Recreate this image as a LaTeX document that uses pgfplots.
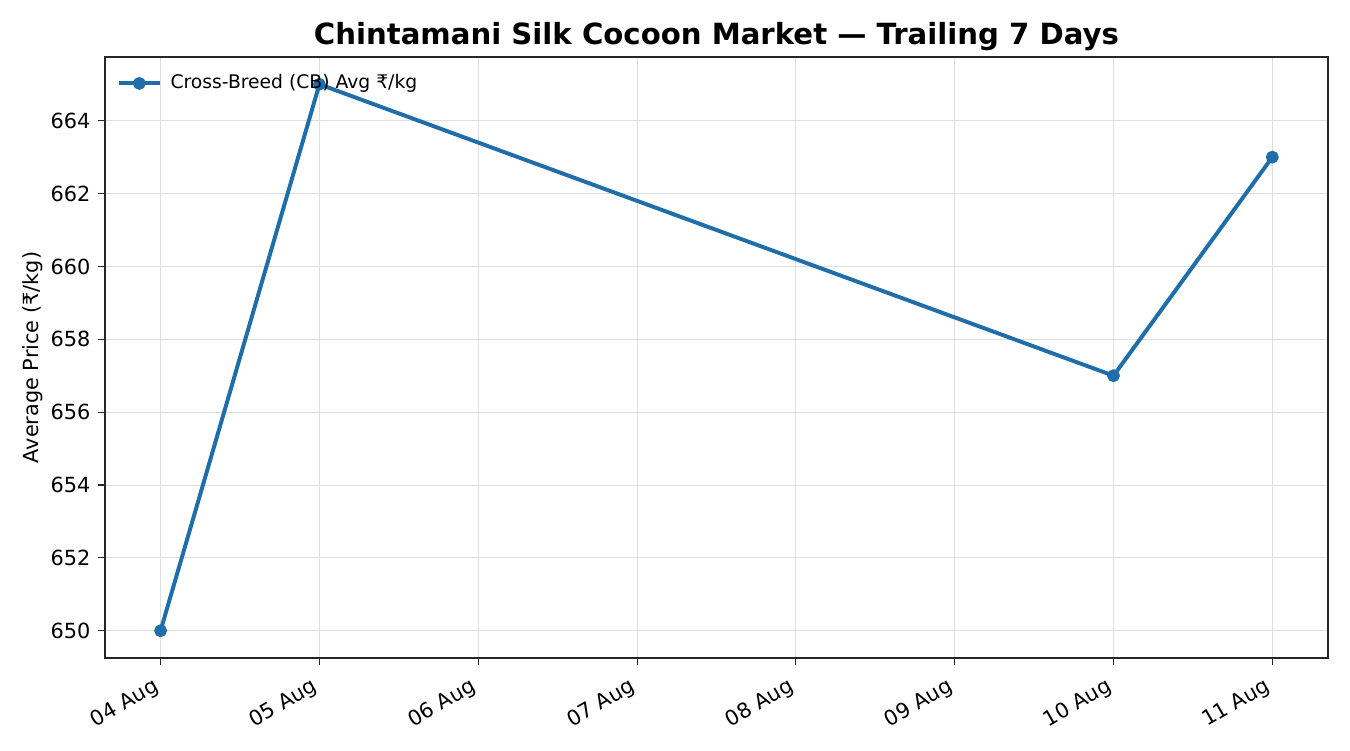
\documentclass[border=0pt]{standalone}
\usepackage{fontspec}
\setmainfont{DejaVu Sans}
\usepackage{pgfplots}
\pgfplotsset{compat=1.18}
\definecolor{cb}{RGB}{31,110,170}
\begin{document}
\begin{tikzpicture}
\path[use as bounding box] (-50.4pt,-44.16pt) rectangle (597.6pt,315.84pt);
\begin{axis}[
  at={(0,0)}, anchor=south west,
  scale only axis, width=587pt, height=288.5pt,
  xmin=-0.35, xmax=7.35, ymin=649.25, ymax=665.75,
  xtick={0,1,2,3,4,5,6,7},
  xticklabels={04 Aug,05 Aug,06 Aug,07 Aug,08 Aug,09 Aug,10 Aug,11 Aug},
  ytick={650,652,654,656,658,660,662,664},
  /pgf/number format/assume math mode=true,
  /pgf/number format/1000 sep={},
  xticklabel style={rotate=30, anchor=north east, font=\fontsize{10}{12}\selectfont, inner sep=1pt, xshift=-5.2pt, yshift=-1.5pt},
  yticklabel style={font=\fontsize{10}{12}\selectfont},
  tick align=outside, major tick length=3.5pt,
  tick style={black!85, line width=0.5pt},
  axis line style={black!85, line width=0.6pt},
  xtick pos=bottom, ytick pos=left,
  grid=major, major grid style={black!13, line width=0.45pt},
  title={Chintamani Silk Cocoon Market — Trailing 7 Days},
  title style={font=\bfseries\fontsize{14}{17}\selectfont, at={(axis description cs:0.5,1)}, anchor=base, yshift=0pt},
  ylabel={Average Price (₹/kg)},
  every axis y label/.style={font=\fontsize{10}{12}\selectfont, at={(axis description cs:0,0.5)}, xshift=-34.6pt, rotate=90, anchor=center},
  legend style={at={(axis description cs:0.004,0.985)}, anchor=north west, draw=none, fill=none, font=\fontsize{9}{11}\selectfont, nodes={inner xsep=4pt}},
  legend cell align=left,
  legend image code/.code={\draw[mark repeat=2,mark phase=2] plot coordinates {(0pt,0pt) (10pt,0pt) (20pt,0pt)};},
]
\addplot[cb, line width=1.9pt, mark=*, mark size=2.1pt, mark options={solid}] coordinates {
  (0,650) (1,665) (6,657) (7,663)
};
\addlegendentry{Cross-Breed (CB) Avg ₹/kg}
\end{axis}
\end{tikzpicture}
\end{document}
